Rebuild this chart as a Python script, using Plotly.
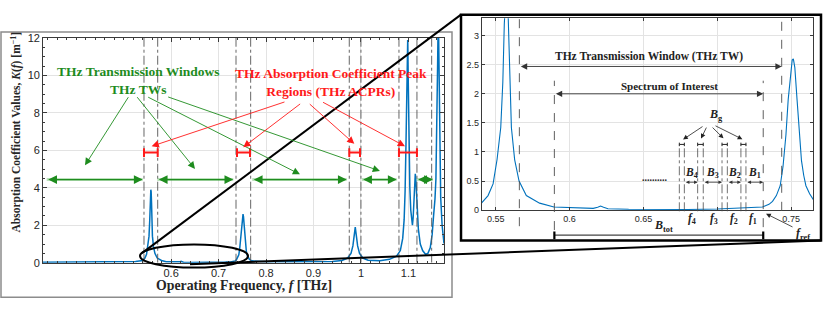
import plotly.graph_objects as go

# ---------------- data ----------------
FREQ_THZ = [0.33, 0.37, 0.377, 0.381, 0.385, 0.395, 0.44, 0.446, 0.450, 0.454, 0.46, 0.50, 0.525,
            0.5403, 0.5448, 0.5482, 0.5509, 0.5534, 0.5548, 0.5558, 0.5566, 0.5572, 0.5579, 0.5587,
            0.5596, 0.5606, 0.5628, 0.5658, 0.5707, 0.5797, 0.5894, 0.600, 0.610, 0.616, 0.619,
            0.621, 0.623, 0.626, 0.640, 0.660, 0.680, 0.700, 0.715, 0.725, 0.7306, 0.735, 0.7374,
            0.740, 0.7426, 0.7445, 0.7465, 0.748, 0.7495, 0.7507, 0.7515, 0.7525, 0.754, 0.7555,
            0.757, 0.7585, 0.760, 0.7625, 0.765, 0.770, 0.780, 0.80, 0.85, 0.90, 0.94, 0.96, 0.972,
            0.979, 0.983, 0.986, 0.988, 0.990, 0.993, 0.997, 1.004, 1.015, 1.04, 1.06, 1.075, 1.083,
            1.088, 1.091, 1.093, 1.095, 1.0965, 1.0975, 1.0985, 1.0995, 1.101, 1.103, 1.105, 1.107,
            1.1085, 1.110, 1.112, 1.1135, 1.1145, 1.116, 1.118, 1.121, 1.125, 1.130, 1.136, 1.141,
            1.146, 1.150, 1.153, 1.156, 1.158, 1.160, 1.1615, 1.163, 1.1645, 1.166, 1.168, 1.171, 1.175]
K_VALUES = [0.03, 0.03, 0.04, 0.07, 0.04, 0.03, 0.03, 0.045, 0.07, 0.045, 0.03, 0.04, 0.07,
            0.12, 0.25, 0.45, 0.87, 1.42, 2.2, 3.2, 3.8, 3.9, 3.8, 3.2,
            2.2, 1.42, 0.87, 0.5, 0.25, 0.12, 0.055, 0.04, 0.03, 0.03, 0.05,
            0.07, 0.05, 0.025, 0.015, 0.01, 0.012, 0.02, 0.035, 0.045, 0.055, 0.1, 0.15,
            0.25, 0.42, 0.75, 1.3, 1.9, 2.35, 2.58, 2.6, 2.45, 1.9, 1.3,
            0.85, 0.6, 0.42, 0.28, 0.18, 0.1, 0.07, 0.05, 0.05, 0.05, 0.07, 0.12, 0.25,
            0.5, 0.9, 1.5, 1.9, 1.5, 0.9, 0.5, 0.25, 0.13, 0.1, 0.18, 0.35, 0.65,
            1.3, 2.3, 3.8, 6.5, 10.5, 11.9, 11.9, 10.0, 6.5, 4.0, 2.8, 2.1,
            2.0, 2.4, 3.6, 4.6, 4.75, 4.3, 3.0, 1.8, 1.0, 0.65, 0.45, 0.5,
            0.8, 1.5, 2.5, 3.4, 4.5, 7.0, 10.5, 13.5, 10.5, 6.0, 3.5, 2.0, 1.03]

MAIN_XTICKS = [0.6, 0.7, 0.8, 0.9, 1.0, 1.1]
MAIN_XTICKTEXT = ["0.6", "0.7", "0.8", "0.9", "1", "1.1"]
MAIN_YTICKS = [0, 2, 4, 6, 8, 10, 12]
INSET_XTICKS = [0.55, 0.6, 0.65, 0.7, 0.75]
INSET_XTICKTEXT = ["0.55", "0.6", "0.65", "", "0.75"]
INSET_YTICKS = [0, 0.5, 1, 1.5, 2, 2.5, 3]
INSET_YTICKTEXT = ["0", "0.5", "1", "1.5", "2", "2.5", "3"]

# region boundaries (THz)
WINDOW_LINES = [0.5428, 0.5717, 0.7367, 0.7676, 0.9754, 1.0, 1.0801, 1.118, 1.149]
ACPR_BARS = [(0.5428, 0.5717), (0.7388, 0.7662), (0.9754, 0.998), (1.0801, 1.118)]
TW_ARROWS = [(0.3378, 0.5401), (0.5708, 0.731), (0.771, 0.97), (1.0015, 1.0753), (1.1174, 1.1517)]
TW_EDGES = (0.5660, 0.7436)
SOI_EDGES = (0.5897, 0.7311)
GUARD_BANDS = [(0.6743, 0.6777), (0.6867, 0.6905), (0.7032, 0.7068), (0.7160, 0.7194)]
SUB_BANDS = [("B", "4", 0.6777, 0.6867), ("B", "3", 0.6905, 0.7032),
             ("B", "2", 0.7068, 0.7160), ("B", "1", 0.7194, 0.7311)]
CARRIERS = [("4", 0.6827), ("3", 0.6978), ("2", 0.7113), ("1", 0.7244)]

W, H = 830, 312
def PX(x): return x / W
def PY(y): return 1 - y / H

BLUE = "#0072BD"
GREEN = "#1e8c1e"
RED = "#ff1a1a"
SERIF = "Liberation Serif"
SANS = "Liberation Sans"
TICKC = "#262626"

fig = go.Figure()
fig.add_trace(go.Scatter(x=FREQ_THZ, y=K_VALUES, mode="lines", line=dict(color=BLUE, width=1.5),
                         xaxis="x", yaxis="y", showlegend=False))
fig.add_trace(go.Scatter(x=FREQ_THZ, y=K_VALUES, mode="lines", line=dict(color=BLUE, width=1.1),
                         xaxis="x2", yaxis="y2", showlegend=False))

shapes = []
ann = []

# outer gray box of main figure
shapes.append(dict(type="rect", xref="paper", yref="paper", x0=PX(1), x1=PX(452), y0=PY(303), y1=PY(27),
                   line=dict(color="#8c8c8c", width=1.5), layer="below"))
# inset box
shapes.append(dict(type="rect", xref="paper", yref="paper", x0=PX(461), x1=PX(821), y0=PY(244), y1=PY(9),
                   line=dict(color="black", width=2.5), fillcolor="white", layer="below"))

# main: dash-dot boundaries
for xv in WINDOW_LINES:
    shapes.append(dict(type="line", xref="x", yref="y", x0=xv, x1=xv, y0=0, y1=12,
                       line=dict(color="#555", width=0.9, dash="dashdot")))
# main: ACPR red bars
for a, b in ACPR_BARS:
    shapes.append(dict(type="line", xref="x", yref="y", x0=a, x1=b, y0=5.88, y1=5.88, line=dict(color=RED, width=2)))
    for xv in (a, b):
        shapes.append(dict(type="line", xref="x", yref="y", x0=xv, x1=xv, y0=5.65, y1=6.11, line=dict(color=RED, width=2)))
# main: TW green double arrows
for a, b in TW_ARROWS:
    shapes.append(dict(type="line", xref="x", yref="y", x0=a, x1=b, y0=4.44, y1=4.44,
                       line=dict(color="rgba(60,170,60,0.35)", width=3)))
    ann.append(dict(x=b, y=4.44, ax=a, ay=4.44, xref="x", yref="y", axref="x", ayref="y", text="",
                    showarrow=True, arrowhead=2, startarrowhead=2, arrowside="end+start", arrowsize=1.6,
                    startarrowsize=1.6, arrowwidth=1.1, arrowcolor=GREEN, standoff=0, startstandoff=0))

# green text and arrows
ann.append(dict(x=PX(138), y=PY(77), xref="paper", yref="paper",
                text="<b>THz Transmission Windows<br>THz TWs</b>", showarrow=False,
                font=dict(family=SERIF, size=13.5, color=GREEN)))
for (hx, hy), (tx, ty) in [((0.4185, 5.2), (0.5118, 8.92)), ((0.6503, 5.01), (0.526, 8.92)),
                           ((0.8715, 4.72), (0.5485, 8.88)), ((1.04, 4.9), (0.5906, 8.88))]:
    ann.append(dict(x=hx, y=hy, ax=tx, ay=ty, xref="x", yref="y", axref="x", ayref="y", text="", showarrow=True,
                    arrowhead=2, arrowsize=1.6, arrowwidth=0.9, arrowcolor=GREEN, standoff=0))

# red text and arrows
ann.append(dict(x=PX(331), y=PY(80), xref="paper", yref="paper",
                text="<b>THz Absorption Coefficient Peak<br>Regions (THz ACPRs)</b>", showarrow=False,
                font=dict(family=SERIF, size=13.5, color=RED)))
for (hx, hy), (tx, ty) in [((0.559, 6.22), (0.842, 8.61)), ((0.752, 6.17), (0.875, 8.54)),
                           ((0.986, 6.35), (0.889, 8.54)), ((1.0928, 6.22), (0.917, 8.61))]:
    ann.append(dict(x=hx, y=hy, ax=tx, ay=ty, xref="x", yref="y", axref="x", ayref="y", text="", showarrow=True,
                    arrowhead=2, arrowsize=1.6, arrowwidth=0.9, arrowcolor=RED, standoff=0))

# axis titles (main)
ann.append(dict(x=PX(244), y=PY(291), xref="paper", yref="paper", showarrow=False,
                text="<b>Operating Frequency, <i>f</i> [THz]</b>", font=dict(family=SERIF, size=13.8, color=TICKC)))
ann.append(dict(x=PX(16.5), y=PY(131), xref="paper", yref="paper", showarrow=False, textangle=-90,
                text="<b>Absorption Coefficient Values, <i>K</i>(<i>f</i>) [m<sup>−1</sup>]</b>",
                font=dict(family=SERIF, size=11.5, color=TICKC)))

# ---------------- inset decorations ----------------
dash_c = "#4d4d4d"
shapes.append(dict(type="line", xref="x2", yref="paper", x0=TW_EDGES[0], x1=TW_EDGES[0], y0=PY(229), y1=PY(12.7),
                   line=dict(color=dash_c, width=0.9, dash="dash")))
shapes.append(dict(type="line", xref="x2", yref="paper", x0=TW_EDGES[1], x1=TW_EDGES[1], y0=PY(213), y1=PY(12.7),
                   line=dict(color=dash_c, width=0.9, dash="dash")))
shapes.append(dict(type="line", xref="x2", yref="paper", x0=SOI_EDGES[0], x1=SOI_EDGES[0], y0=PY(233), y1=PY(77.7),
                   line=dict(color=dash_c, width=0.9, dash="dash")))
shapes.append(dict(type="line", xref="x2", yref="paper", x0=SOI_EDGES[1], x1=SOI_EDGES[1], y0=PY(230), y1=PY(77.7),
                   line=dict(color=dash_c, width=0.9, dash="dash")))

ann.append(dict(x=TW_EDGES[1], y=2.47, ax=TW_EDGES[0], ay=2.47, xref="x2", yref="y2", axref="x2", ayref="y2", text="",
                showarrow=True, arrowhead=2, startarrowhead=2, arrowside="end+start", arrowsize=1.4,
                startarrowsize=1.4, arrowwidth=0.9, arrowcolor="#333", standoff=0, startstandoff=0))
ann.append(dict(x=0.6538, y=2.64, xref="x2", yref="y2", showarrow=False,
                text="<b>THz Transmission Window (THz TW)</b>", font=dict(family=SERIF, size=11.5, color="#222")))
ann.append(dict(x=SOI_EDGES[1], y=2.0, ax=SOI_EDGES[0], ay=2.0, xref="x2", yref="y2", axref="x2", ayref="y2", text="",
                showarrow=True, arrowhead=2, startarrowhead=2, arrowside="end+start", arrowsize=1.4,
                startarrowsize=1.4, arrowwidth=0.9, arrowcolor="#333", standoff=0, startstandoff=0))
ann.append(dict(x=0.6675, y=2.13, xref="x2", yref="y2", showarrow=False,
                text="<b>Spectrum of Interest</b>", font=dict(family=SERIF, size=11, color="#222")))

# guard bands
for a, b in GUARD_BANDS:
    shapes.append(dict(type="line", xref="x2", yref="y2", x0=a, x1=b, y0=1.13, y1=1.13, line=dict(color="#222", width=1)))
    for xv in (a, b):
        shapes.append(dict(type="line", xref="x2", yref="y2", x0=xv, x1=xv, y0=1.10, y1=1.16, line=dict(color="#222", width=1)))
        shapes.append(dict(type="line", xref="x2", yref="paper", x0=xv, x1=xv, y0=PY(213.5), y1=PY(144),
                           line=dict(color=dash_c, width=0.8, dash="dashdot")))
ann.append(dict(x=0.6991, y=1.63, xref="x2", yref="y2", showarrow=False, text="<b><i>B</i><sub>g</sub></b>",
                font=dict(family=SERIF, size=12, color="#222")))
for (hx, hy), (tx, ty) in [((0.6768, 1.214), (0.6910, 1.454)), ((0.6890, 1.23), (0.6931, 1.445)),
                           ((0.7042, 1.235), (0.6958, 1.445)), ((0.7170, 1.219), (0.6978, 1.462))]:
    ann.append(dict(x=hx, y=hy, ax=tx, ay=ty, xref="x2", yref="y2", axref="x2", ayref="y2", text="", showarrow=True,
                    arrowhead=2, arrowsize=1.2, arrowwidth=0.8, arrowcolor="#222", standoff=0))

# sub-bands
for name, idx, a, b in SUB_BANDS:
    ann.append(dict(x=b, y=0.48, ax=a, ay=0.48, xref="x2", yref="y2", axref="x2", ayref="y2", text="",
                    showarrow=True, arrowhead=2, startarrowhead=2, arrowside="end+start", arrowsize=0.9,
                    startarrowsize=0.9, arrowwidth=0.8, arrowcolor="#333", standoff=0, startstandoff=0))
    ann.append(dict(x=(a + b) / 2, y=0.64, xref="x2", yref="y2", showarrow=False,
                    text="<b><i>%s</i><sub>%s</sub></b>" % (name, idx), font=dict(family=SERIF, size=11.5, color="#222")))
ann.append(dict(x=0.6578, y=0.56, xref="x2", yref="y2", showarrow=False, text="<b>..........</b>",
                font=dict(family=SERIF, size=10, color="#222")))
for idx, xv in CARRIERS:
    ann.append(dict(x=xv, y=PY(222), xref="x2", yref="paper", showarrow=False,
                    text="<b><i>f</i><sub>%s</sub></b>" % idx, font=dict(family=SERIF, size=11.5, color="#222")))

# B_tot
shapes.append(dict(type="line", xref="x2", yref="paper", x0=SOI_EDGES[0], x1=SOI_EDGES[1], y0=PY(238.3), y1=PY(238.3),
                   line=dict(color="#444", width=1.2)))
for xv in SOI_EDGES:
    shapes.append(dict(type="line", xref="x2", yref="paper", x0=xv, x1=xv, y0=PY(242.5), y1=PY(234.5),
                       line=dict(color="black", width=2.2)))
ann.append(dict(x=0.6639, y=PY(229), xref="x2", yref="paper", showarrow=False,
                text="<b><i>B</i><sub>tot</sub></b>", font=dict(family=SERIF, size=12, color="#222")))
# f_ref
ann.append(dict(x=0.7578, y=PY(237), xref="x2", yref="paper", showarrow=False,
                text="<b><i>f</i><sub>ref</sub></b>", font=dict(family=SERIF, size=12, color="#222")))
ann.append(dict(x=0.733, y=PY(216), xref="x2", yref="paper", axref="pixel", ayref="pixel", ax=28, ay=14, text="",
                showarrow=True, arrowhead=2, arrowsize=1.2, arrowwidth=0.8, arrowcolor="#222", standoff=0))

for a in ann:
    a.setdefault("xanchor", "center")
    a.setdefault("yanchor", "middle")

# zoom connector: ellipse + lines
shapes.append(dict(type="circle", xref="paper", yref="paper", x0=PX(140), x1=PX(248), y0=PY(272), y1=PY(248),
                   line=dict(color="black", width=2), layer="above"))
shapes.append(dict(type="line", xref="paper", yref="paper", x0=PX(142), y0=PY(257), x1=PX(461), y1=PY(9),
                   line=dict(color="black", width=2), layer="above"))
shapes.append(dict(type="line", xref="paper", yref="paper", x0=PX(190), y0=PY(268.5), x1=PX(821), y1=PY(244),
                   line=dict(color="black", width=2), layer="above"))

grid_c = "#e3e3e3"
axis_common = dict(showline=True, linecolor="#3a3a3a", linewidth=0.8, mirror="ticks", ticks="inside",
                   tickcolor="#3a3a3a", showgrid=True, gridcolor=grid_c, gridwidth=0.8, zeroline=False)

fig.update_layout(
    width=W, height=H, margin=dict(l=0, r=0, t=0, b=0), paper_bgcolor="white", plot_bgcolor="white",
    showlegend=False, shapes=shapes, annotations=ann,
    xaxis=dict(domain=[PX(43), PX(444)], range=[0.33, 1.175], tickvals=MAIN_XTICKS, ticktext=MAIN_XTICKTEXT,
               ticklen=4, tickfont=dict(family=SANS, size=11, color=TICKC), anchor="y",
               minor=dict(ticks="inside", ticklen=2, dtick=0.02, tick0=0.6, tickcolor="#3a3a3a", showgrid=False),
               **axis_common),
    yaxis=dict(domain=[PY(267), PY(33.3)], range=[0, 12], tickvals=MAIN_YTICKS, ticklen=4,
               tickfont=dict(family=SANS, size=11, color=TICKC), anchor="x",
               minor=dict(ticks="inside", ticklen=2, dtick=0.5, tickcolor="#3a3a3a", showgrid=False),
               **axis_common),
    xaxis2=dict(domain=[PX(481.7), PX(813.3)], range=[0.5405, 0.765], tickvals=INSET_XTICKS,
                ticktext=INSET_XTICKTEXT, ticklen=3, tickfont=dict(family=SANS, size=9, color=TICKC), anchor="y2",
                **axis_common),
    yaxis2=dict(domain=[PY(212.3), PY(12.7)], range=[0, 3.3], tickvals=INSET_YTICKS, ticktext=INSET_YTICKTEXT,
                ticklen=3, tickfont=dict(family=SANS, size=9, color=TICKC), anchor="x2", **axis_common),
)

fig.write_html("out.html", config={"displayModeBar": False},
               post_script="document.body.style.margin='0px';document.body.style.overflow='hidden';")
